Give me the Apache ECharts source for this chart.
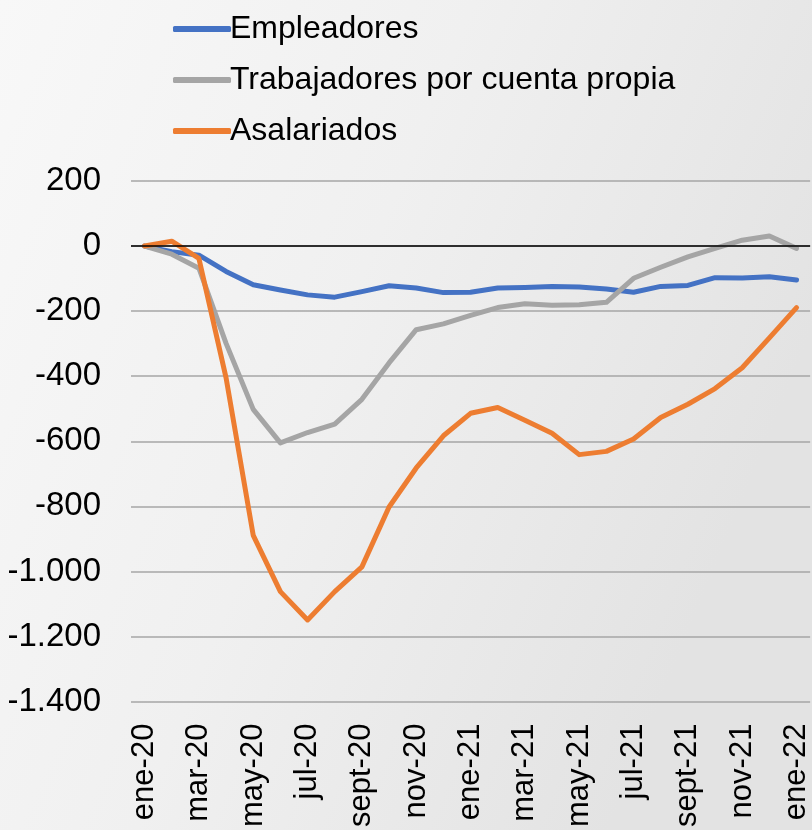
<!DOCTYPE html>
<html>
<head>
<meta charset="utf-8">
<script src="https://cdn.jsdelivr.net/npm/echarts@6/dist/echarts.min.js"></script>
<style>
  html, body { margin: 0; padding: 0; }
  #chart { width: 812px; height: 830px; }
</style>
</head>
<body>
<div id="chart"></div>
<script>
const months = [
  "ene-20", "feb-20", "mar-20", "abr-20", "may-20", "jun-20", "jul-20", "ago-20", "sept-20", "oct-20", "nov-20", "dic-20",
  "ene-21", "feb-21", "mar-21", "abr-21", "may-21", "jun-21", "jul-21", "ago-21", "sept-21", "oct-21", "nov-21", "dic-21",
  "ene-22"
];
const empleadores = [0, -17, -28, -78, -119, -135, -150, -157, -140, -122, -129, -143, -142, -129, -127, -124, -126, -132, -142, -124, -121, -97, -98, -94, -104];
const cuentaPropia = [0, -25, -68, -299, -502, -605, -573, -547, -471, -359, -257, -239, -213, -189, -177, -182, -180, -173, -99, -65, -33, -7, 18, 31, -7];
const asalariados = [0, 15, -38, -405, -889, -1062, -1149, -1062, -986, -802, -682, -583, -514, -496, -535, -575, -641, -631, -593, -527, -486, -438, -374, -282, -189];

const font = "Liberation Sans, Arial, sans-serif";

function fmt(v) {
  const s = Math.abs(v).toString().replace(/\B(?=(\d{3})+(?!\d))/g, ".");
  return (v < 0 ? "-" : "") + s;
}

function lineSeries(name, data, color) {
  return {
    name: name,
    type: "line",
    data: data,
    symbol: "none",
    lineStyle: { color: color, width: 5, cap: "round", join: "round" },
    itemStyle: { color: color }
  };
}

const chart = echarts.init(document.getElementById("chart"));
const series = [
  lineSeries("Empleadores", empleadores, "#4472C4"),
  lineSeries("Trabajadores por cuenta propia", cuentaPropia, "#A5A5A5"),
  lineSeries("Asalariados", asalariados, "#ED7D31")
];
// black zero line
series[0].markLine = {
  silent: true,
  symbol: "none",
  label: { show: false },
  lineStyle: { color: "#000", width: 1.5, type: "solid" },
  data: [{ yAxis: 0 }]
};

chart.setOption({
  animation: false,
  backgroundColor: {
    type: "linear", x: 0, y: 0, x2: 1, y2: 0.4,
    colorStops: [
      { offset: 0, color: "#f8f8f8" },
      { offset: 0.5, color: "#f0f0f0" },
      { offset: 1, color: "#e3e3e3" }
    ]
  },
  legend: {
    orient: "vertical",
    left: 168,
    top: 8,
    icon: "roundRect",
    itemWidth: 58,
    itemHeight: 6,
    itemGap: 19,
    textStyle: { fontFamily: font, fontSize: 32, color: "#000", padding: [0, 0, 0, -6] },
    data: ["Empleadores", "Trabajadores por cuenta propia", "Asalariados"]
  },
  grid: { left: 131, right: 0, top: 181, bottom: 126, containLabel: false },
  xAxis: {
    type: "category",
    data: months,
    boundaryGap: true,
    axisLine: { show: false },
    axisTick: { show: false },
    axisLabel: {
      interval: 1,
      rotate: 90,
      margin: 22,
      fontFamily: font,
      fontSize: 31,
      color: "#000"
    }
  },
  yAxis: {
    type: "value",
    min: -1400,
    max: 200,
    interval: 200,
    axisLine: { show: false },
    axisTick: { show: false },
    splitLine: { lineStyle: { color: "#a6a6a6", width: 1.5 } },
    axisLabel: {
      margin: 30,
      fontFamily: font,
      fontSize: 33,
      color: "#000",
      formatter: fmt
    }
  },
  series: series
});
</script>
</body>
</html>
